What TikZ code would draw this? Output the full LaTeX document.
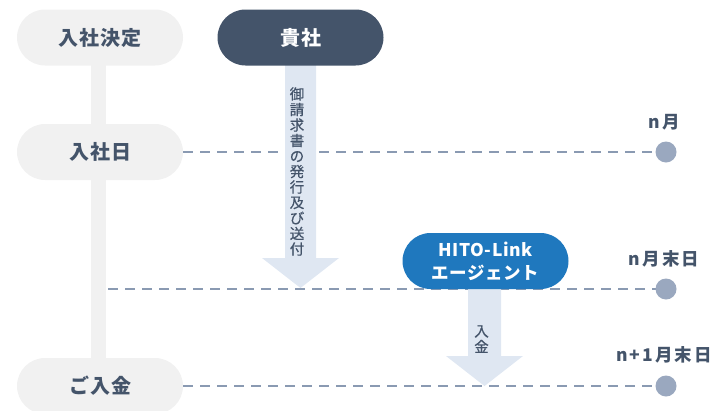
\documentclass[tikz,border=0pt]{standalone}
\usepackage{fontspec}
\setmainfont{Noto Sans CJK JP}
\newfontfamily\jpmed[FakeBold=0.6]{Noto Sans CJK JP}
\usetikzlibrary{backgrounds}
\definecolor{pillgray}{HTML}{F1F1F1}
\definecolor{darkpill}{HTML}{44546A}
\definecolor{txtdark}{HTML}{44546A}
\definecolor{bluepill}{HTML}{1F78BE}
\definecolor{arrowc}{HTML}{DFE7F2}
\definecolor{dashc}{HTML}{8A9AB2}
\definecolor{dotc}{HTML}{9AA8BF}
\tikzset{
  pillbase/.style={minimum width=166pt, minimum height=56pt, rounded corners=28pt, inner sep=0pt, align=center},
  graypill/.style={pillbase, fill=pillgray, text=txtdark, font=\fontsize{20}{22}\selectfont\bfseries\addfontfeatures{LetterSpace=5}},
  darkbox/.style={pillbase, fill=darkpill, text=white, font=\fontsize{20}{22}\selectfont\bfseries\addfontfeatures{LetterSpace=5}},
  bluebox/.style={pillbase, fill=bluepill, text=white, font=\fontsize{17.5}{23}\selectfont\bfseries\addfontfeatures{LetterSpace=3}},
  dashline/.style={draw=dashc, line width=2.2pt, dash pattern=on 10pt off 7pt},
  dotnode/.style={circle, fill=dotc, minimum size=21pt, inner sep=0pt},
  lbl/.style={text=txtdark, font=\fontsize{17.5}{20}\selectfont\bfseries\addfontfeatures{LetterSpace=12}, inner sep=0pt},
  vtext/.style={text=txtdark, font=\jpmed\fontsize{14.5}{15.5}\selectfont, align=center, inner sep=0pt},
  arrowfill/.style={fill=arrowc},
}
\begin{document}
\begin{tikzpicture}[x=1pt,y=-1pt]
\useasboundingbox (0,0) rectangle (717,410);
% pills
\node[graypill] (kettei) at (100,37.5) {入社決定};
\node[graypill] (nyusha) at (100,152) {入社日};
\node[graypill] (nyukin) at (100,386) {ご入金};
\node[darkbox] (kisha) at (300.5,37.5) {貴社};
\node[bluebox] (hito) at (485.5,261) {HITO-Link\\エージェント};
% dots
\node[dotnode] (m1) at (666,152) {};
\node[dotnode] (m2) at (666,289) {};
\node[dotnode] (m3) at (666,386) {};
\coordinate (s2) at (108,289);
% labels
\node[lbl] (l1) at (664,122) {n月};
\node[lbl] (l2) at (664,258.5) {n月末日};
\node[lbl] (l3) at (664,355) {n+1月末日};
% vertical texts
\node[vtext] (v1) at (297,171.5) {御\\請\\求\\書\\の\\発\\行\\及\\び\\送\\付};
\node[vtext] (v2) at (481.5,339) {入\\金};
\begin{scope}[on background layer]
  \fill[pillgray] (91,60) rectangle (106,365);
  \draw[dashline] (nyusha.east) -- (m1.center);
  \draw[dashline] (s2) -- (m2.center);
  \draw[dashline] (nyukin.east) -- (m3.center);
  \fill[arrowfill] (285,60) -- (285,258) -- (262,258) -- (300.5,288) -- (339,258) -- (316,258) -- (316,60) -- cycle;
  \fill[arrowfill] (468,285) -- (468,356) -- (446,356) -- (484.5,386) -- (523,356) -- (501,356) -- (501,285) -- cycle;
\end{scope}
\end{tikzpicture}
\end{document}
